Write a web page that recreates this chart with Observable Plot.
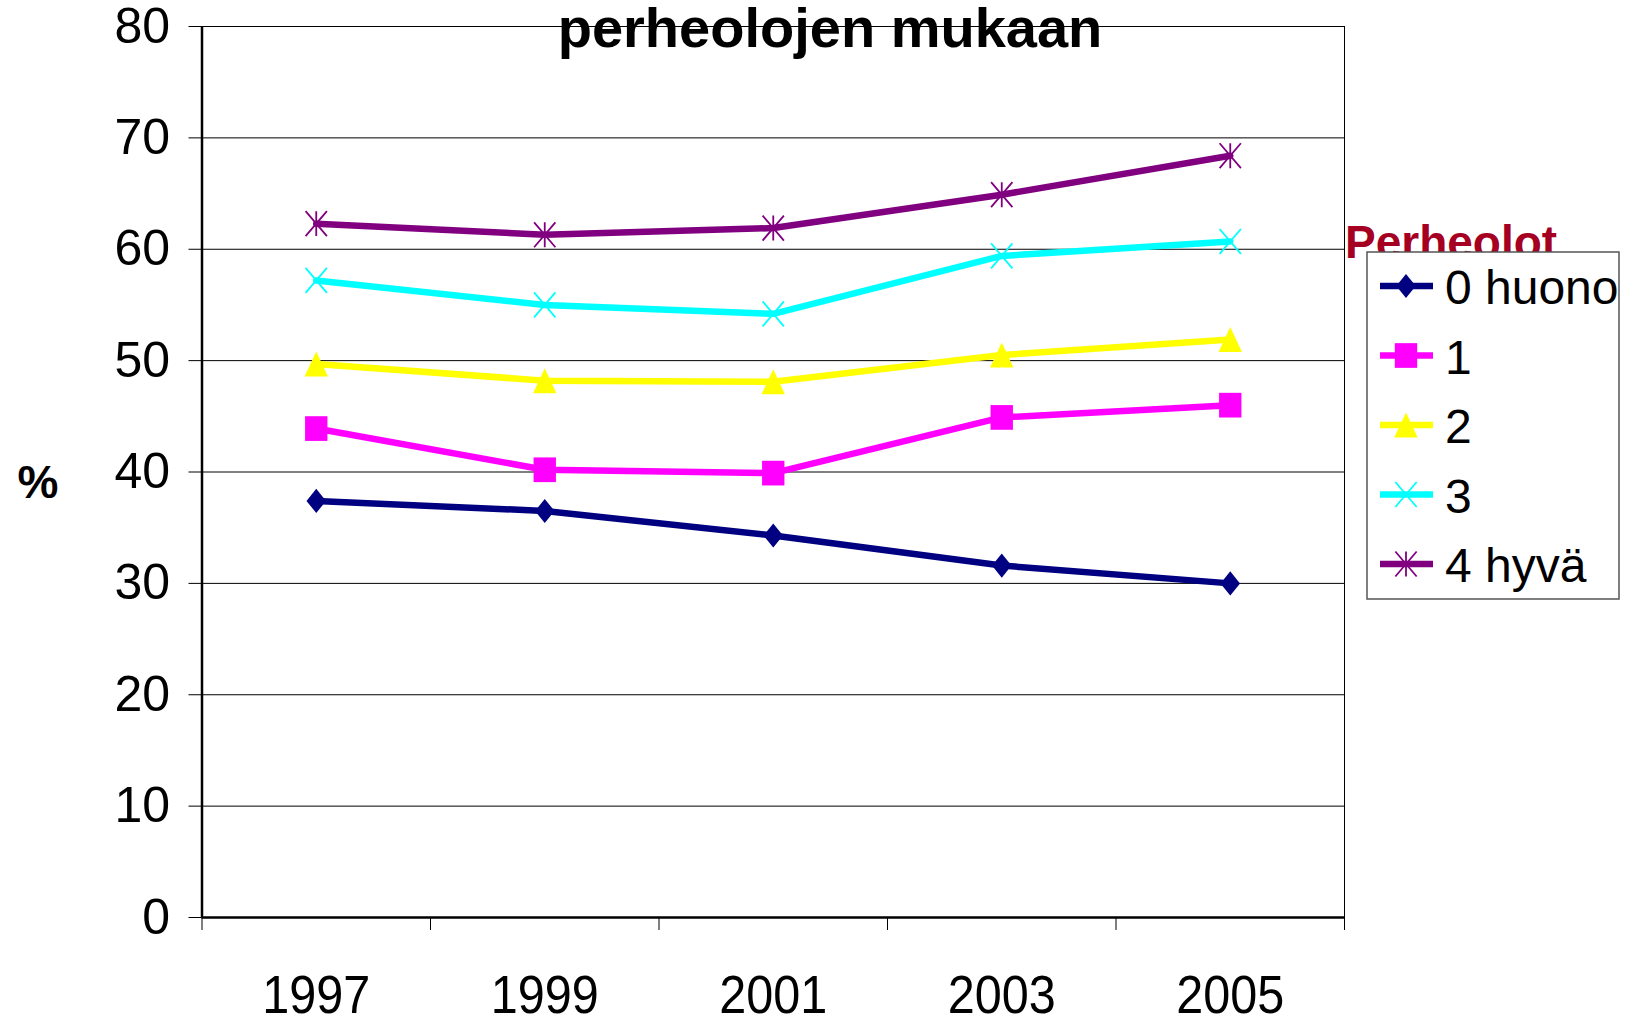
<!DOCTYPE html>
<html>
<head>
<meta charset="utf-8">
<script src="https://cdn.jsdelivr.net/npm/d3@7"></script>
<script src="https://cdn.jsdelivr.net/npm/@observablehq/plot@0.6"></script>
<style>
  body { margin: 0; background: #fff; }
  #wrap { position: relative; width: 1637px; height: 1019px; overflow: hidden; font-family: "Liberation Sans", Arial, sans-serif; }
  #wrap > svg { position: absolute; left: 0; top: 0; }
  #overlay { pointer-events: none; }
</style>
</head>
<body>
<div id="wrap"></div>
<script>
// ---- data ----
const years = [1997, 1999, 2001, 2003, 2005];
const xTickLabels = ["1997", "1999", "2001", "2003", "2005"];
const yTicks = [0, 10, 20, 30, 40, 50, 60, 70, 80];
const seriesNames = ["0 huono", "1", "2", "3", "4 hyvä"];
const values0 = [37.4, 36.5, 34.3, 31.6, 30.0];
const values1 = [43.9, 40.2, 39.9, 44.9, 46.0];
const values2 = [49.7, 48.2, 48.1, 50.5, 51.9];
const values3 = [57.2, 55.0, 54.2, 59.4, 60.7];
const values4 = [62.3, 61.3, 61.9, 64.9, 68.4];
const titleText = "perheolojen mukaan";
const legendTitle = "Perheolot";
const yLabel = "%";

// ---- styles ----
const colors = ["#000080", "#FF00FF", "#FFFF00", "#00FFFF", "#800080"];
const allValues = [values0, values1, values2, values3, values4];

// custom Excel-like symbols (size = r*r*PI)
const rOf = s => Math.sqrt(s / Math.PI);
const symDiamond = { draw(c, s) { const r = rOf(s); c.moveTo(0, -0.93 * r); c.lineTo(0.75 * r, 0); c.lineTo(0, 0.93 * r); c.lineTo(-0.75 * r, 0); c.closePath(); } };
const symSquare = { draw(c, s) { const r = rOf(s); const w = 0.86 * r, h = 0.95 * r; c.moveTo(-w, -h); c.lineTo(w, -h); c.lineTo(w, h); c.lineTo(-w, h); c.closePath(); } };
const symTriangle = { draw(c, s) { const r = rOf(s); c.moveTo(0, -0.96 * r); c.lineTo(0.9 * r, 0.96 * r); c.lineTo(-0.9 * r, 0.96 * r); c.closePath(); } };
const symX = { draw(c, s) { const r = rOf(s); const w = 0.82 * r, h = 0.96 * r; c.moveTo(-w, -h); c.lineTo(w, h); c.moveTo(-w, h); c.lineTo(w, -h); } };
const symStar = { draw(c, s) { const r = rOf(s); const w = 0.82 * r, h = 0.96 * r; c.moveTo(-w, -h); c.lineTo(w, h); c.moveTo(-w, h); c.lineTo(w, -h); c.moveTo(0, -h); c.lineTo(0, h); } };
const symbols = [symDiamond, symSquare, symTriangle, symX, symStar];
const filled = [true, true, true, false, false];

const data = seriesNames.flatMap((s, i) => allValues[i].map((v, j) => ({ series: s, year: years[j], value: v })));
const boundaries = [years[0] - 1, ...years.map(y => y + 1)];

const FONT = "Liberation Sans, Arial, sans-serif";

const dotMarks = seriesNames.map((s, i) => Plot.dot(data.filter(d => d.series === s), {
  x: "year", y: "value", r: 13, symbol: symbols[i],
  fill: filled[i] ? colors[i] : "none",
  stroke: colors[i],
  strokeWidth: filled[i] ? 0 : 1.8
}));

const chart = Plot.plot({
  width: 1637,
  height: 1019,
  marginLeft: 201.5,
  marginRight: 293,
  marginTop: 26,
  marginBottom: 102,
  style: { fontFamily: FONT, background: "white", color: "black" },
  x: { type: "linear", domain: [boundaries[0], boundaries[boundaries.length - 1]] },
  y: { domain: [yTicks[0], yTicks[yTicks.length - 1]] },
  color: { domain: seriesNames, range: colors },
  marks: [
    Plot.ruleY(yTicks.slice(1, -1), { stroke: "#000", strokeWidth: 1 }),
    Plot.frame({ stroke: "#000", strokeWidth: 1 }),
    Plot.axisY({ ticks: yTicks, tickSize: 13, tickPadding: 19, fontSize: 50, label: null, strokeWidth: 1 }),
    Plot.axisX({ ticks: boundaries, tickSize: 13, tickFormat: () => "", label: null }),
    Plot.axisX({ ticks: years, tickSize: 0, tickPadding: 58, fontSize: 53, label: null,
      tickFormat: d => xTickLabels[years.indexOf(d)] }),
    Plot.ruleX([boundaries[0]], { stroke: "#000", strokeWidth: 2.5 }),
    Plot.ruleY([yTicks[0]], { stroke: "#000", strokeWidth: 2.5 }),
    Plot.lineY(data, { x: "year", y: "value", z: "series", stroke: "series", strokeWidth: 6.5, strokeLinejoin: "round" }),
    ...dotMarks
  ]
});

const wrap = document.getElementById("wrap");
wrap.appendChild(chart);

// slightly condensed year labels, as in the reference
d3.select(chart).selectAll("text").each(function () {
  if (xTickLabels.includes(this.textContent)) {
    d3.select(this).attr("textLength", 108).attr("lengthAdjust", "spacingAndGlyphs");
  }
});

// ---- overlay: title, y label, legend ----
const ov = d3.select(wrap).append("svg").attr("id", "overlay")
  .attr("width", 1637).attr("height", 1019)
  .style("font-family", FONT);

ov.append("text").attr("x", 830).attr("y", 47).attr("text-anchor", "middle")
  .attr("font-size", 56).attr("font-weight", "bold").attr("fill", "#000").text(titleText);

ov.append("text").attr("x", 38).attr("y", 498).attr("text-anchor", "middle")
  .attr("font-size", 46).attr("font-weight", "bold").attr("fill", "#000").text(yLabel);

// legend
ov.append("text").attr("x", 1345).attr("y", 258)
  .attr("font-size", 46).attr("font-weight", "bold").attr("fill", "#A50021").text(legendTitle);
ov.append("rect").attr("x", 1367).attr("y", 252).attr("width", 252).attr("height", 347)
  .attr("fill", "#fff").attr("stroke", "#555").attr("stroke-width", 1.5);

seriesNames.forEach((s, i) => {
  const cy = 286 + i * 69.5;
  const g = ov.append("g");
  g.append("line").attr("x1", 1380).attr("x2", 1433).attr("y1", cy).attr("y2", cy)
    .attr("stroke", colors[i]).attr("stroke-width", 6.5);
  g.append("path").attr("transform", `translate(1406,${cy})`)
    .attr("d", d3.symbol().type(symbols[i]).size(13 * 13 * Math.PI)())
    .attr("fill", filled[i] ? colors[i] : "none")
    .attr("stroke", filled[i] ? "none" : colors[i])
    .attr("stroke-width", 1.8);
  g.append("text").attr("x", 1445).attr("y", cy + 18)
    .attr("font-size", 48).attr("fill", "#000").text(s);
});
</script>
</body>
</html>
